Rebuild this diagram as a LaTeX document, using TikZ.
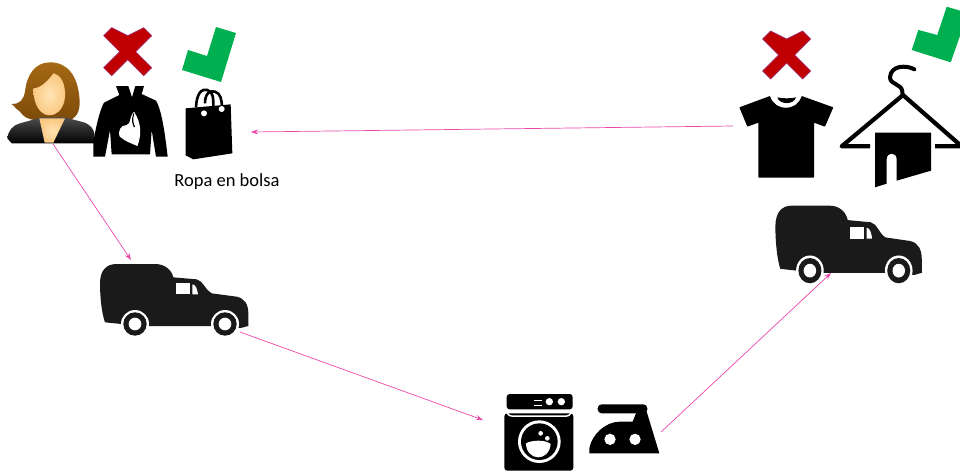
\documentclass[tikz,border=0pt]{standalone}
\usepackage{fontspec}
\setmainfont{Carlito}
\usetikzlibrary{arrows.meta}
\definecolor{pinkline}{RGB}{236,72,170}
\definecolor{vancol}{RGB}{26,26,26}
\definecolor{crossred}{RGB}{192,0,0}
\definecolor{crossedge}{RGB}{160,40,110}
\definecolor{checkgreen}{RGB}{0,176,80}
\definecolor{hairbrown}{RGB}{165,105,20}
\definecolor{hairdark}{RGB}{125,75,10}
\definecolor{skin}{RGB}{250,200,130}
\definecolor{skinlight}{RGB}{255,228,180}
\tikzset{
  flow/.style={draw=pinkline,line width=0.7pt,-{Stealth[length=7pt,width=5pt]},shorten >=0pt,shorten <=0pt},
  icon/.style={fill=black,draw=none},
  hole/.style={fill=white,draw=none},
  vanpic/.pic={
    \fill[vancol] (30,100) .. controls (30,60) and (50,42) .. (80,42) -- (195,42)
      .. controls (225,42) and (245,60) .. (250,82) -- (320,88)
      .. controls (340,92) and (345,120) .. (365,130) -- (440,140)
      .. controls (465,145) and (475,165) .. (475,190) -- (475,228) -- (452,234) -- (360,228) -- (175,228) -- (95,222) -- (45,217)
      .. controls (35,190) and (30,140) .. (30,100) -- cycle;
    \fill[white] (258,100) -- (300,100) -- (300,133) -- (258,133) -- cycle;
    \fill[white] (307,103) .. controls (317,103) and (322,118) .. (324,133) -- (307,133) -- cycle;
    \foreach \wx in {135,405}{
      \fill[white] (\wx,222) circle (42);
      \fill[vancol] (\wx,222) circle (35);
      \fill[white] (\wx,222) circle (19);
    }
  },
  crosspic/.pic={
    \fill[crossred,draw=crossedge,line width=0.7pt]
      (0,-48) -- (48,-72) -- (72,-48) -- (24,0) -- (72,48) -- (48,72) -- (0,24)
      -- (-48,72) -- (-72,48) -- (-24,0) -- (-72,-48) -- (-48,-72) -- cycle;
  }
}
\begin{document}
\begin{tikzpicture}[x=1pt,y=-1pt]
\useasboundingbox (0,0) rectangle (960,472);
\clip (0,0) rectangle (960,472);
\fill[white] (0,0) rectangle (960,472);

% connector ends
\coordinate (shirtEnd) at (733,126);
\coordinate (bagEnd) at (251,132);
\coordinate (personEnd) at (53,144);
\coordinate (vanAIn) at (131,260);
\coordinate (vanAOut) at (240,332);
\coordinate (washerIn) at (483,420);
\coordinate (ironOut) at (661,432);
\coordinate (vanBIn) at (831,273);

% person
\begin{scope}[shift={(0,10)},scale=1/3]
  \shade[top color=hairbrown,bottom color=hairdark,draw=none]
    (150,157) .. controls (205,157) and (232,200) .. (238,260)
    .. controls (242,295) and (235,320) .. (210,330) -- (110,330)
    .. controls (85,330) and (70,320) .. (60,305)
    .. controls (50,300) and (45,290) .. (35,282)
    .. controls (60,282) and (70,270) .. (75,245)
    .. controls (80,195) and (105,157) .. (150,157) -- cycle;
  \shade[top color=black!70,bottom color=black,draw=none]
    (22,385) .. controls (25,360) and (40,345) .. (60,340) -- (125,322) -- (195,322) -- (255,338)
    .. controls (270,345) and (280,355) .. (283,370) -- (283,400) -- (35,400) -- cycle;
  \shade[inner color=skinlight,outer color=skin,draw=none]
    (118,325) -- (195,325) -- (160,398) -- (134,398) -- cycle;
  \shade[inner color=skinlight,outer color=skin,draw=none]
    (100,235) .. controls (125,235) and (150,205) .. (160,190)
    .. controls (185,195) and (197,225) .. (195,260)
    .. controls (193,295) and (170,318) .. (145,316)
    .. controls (120,312) and (100,285) .. (100,235) -- cycle;
  \draw[hairdark,line width=0.3pt] (118,312) .. controls (135,320) and (160,320) .. (172,310);
\end{scope}

% left cross and check
\pic at (127.7,51.7) [scale=1/3] {crosspic};
\fill[checkgreen] (216,27) -- (236,33) -- (221,82) -- (182,70) -- (188,50) -- (207,56) -- cycle;

% jacket
\begin{scope}[shift={(0,10)},scale=1/3]
  \fill[icon] (348,228) -- (385,228) -- (396,262) -- (406,228) -- (432,228) -- (425,252)
    -- (468,272) .. controls (485,300) and (495,370) .. (503,440) -- (468,440) -- (455,360) -- (450,433)
    -- (335,433) -- (330,360) -- (315,440) -- (280,440) -- (280,395)
    .. controls (290,340) and (300,300) .. (312,278) -- (358,255) -- cycle;
  \fill[hole] (402,305) .. controls (385,325) and (395,340) .. (380,345)
    .. controls (360,345) and (355,365) .. (358,378)
    .. controls (375,395) and (395,400) .. (412,408)
    .. controls (425,375) and (425,340) .. (402,305) -- cycle;
  \fill[icon] (400,310) .. controls (392,330) and (398,345) .. (402,352) -- (405,350) .. controls (400,340) and (397,325) .. (403,312) -- cycle;
\end{scope}

% bag
\begin{scope}[shift={(0,10)},scale=1/3]
  \fill[icon] (557,295) -- (692,283) -- (697,430) -- (580,448) -- (557,436) -- cycle;
  \draw[black,line width=2.6pt] (588,292) .. controls (590,250) and (605,235) .. (622,240) .. controls (640,245) and (640,265) .. (640,290);
  \draw[black,line width=2.6pt] (615,280) .. controls (615,250) and (630,240) .. (645,245) .. controls (662,250) and (665,270) .. (666,290);
  \fill[hole] (612,310) circle (9);
  \fill[hole] (665,297) circle (9);
\end{scope}
\node[inner sep=0pt,font=\fontsize{18.5}{20}\selectfont,text=black] (bagLabel) at (227,182) {Ropa en bolsa};

% right cross and check
\pic at (786.7,55) [scale=1/3] {crosspic};
\fill[checkgreen] (946.7,6.7) -- (968,13) -- (950.7,62.3) -- (911.7,50) -- (918.3,30) -- (937.3,35) -- cycle;

% t-shirt and hanger
\begin{scope}[shift={(720,0)},scale=1/3]
  \fill[icon,rounded corners=0.5pt] (58,322) -- (150,288) .. controls (165,335) and (230,335) .. (245,288)
    -- (340,322) -- (315,380) -- (282,368) -- (282,533) -- (115,533) -- (115,368) -- (82,380) -- cycle;
  \fill[icon] (172,292) .. controls (185,296) and (215,296) .. (228,292) .. controls (222,315) and (178,315) .. (172,292) -- cycle;

  \draw[black,line width=4pt,line cap=round,line join=round]
    (583,208) .. controls (560,195) and (512,195) .. (510,232) .. controls (510,255) and (545,250) .. (547,275) -- (548,287);
  \draw[black,line width=4.2pt,line join=round] (450,439) -- (365,439) -- (549,285) -- (725,439) -- (645,439);
  \fill[icon] (465,398) -- (633,398) -- (633,512) -- (530,542) -- (530,478)
    .. controls (530,455) and (500,455) .. (500,478) -- (500,551) -- (465,562) -- cycle;
\end{scope}

% vans
\pic at (90,250) [scale=1/3] {vanpic};
\pic at (765.5,190.5) [xscale=0.329,yscale=0.361] {vanpic};

% washer
\begin{scope}[shift={(490,380)},scale=1/3]
  \fill[icon,rounded corners=3pt] (50,88) -- (50,42) -- (248,42) -- (248,88) -- cycle;
  \fill[icon,rounded corners=3pt] (43,100) -- (43,272) -- (250,272) -- (250,100) -- cycle;
  \fill[hole] (132,59) rectangle (156,64);
  \fill[hole] (132,74) rectangle (156,79);
  \fill[hole] (178,65) circle (11);
  \fill[hole] (214,65) circle (11);
  \draw[white,line width=1.5pt] (43,92) .. controls (55,96) and (52,108) .. (65,108) -- (230,108) .. controls (242,108) and (240,96) .. (250,92);
  \fill[hole] (148,185) circle (64);
  \fill[icon] (148,185) circle (55);
  \fill[hole] (108,190) .. controls (125,180) and (165,178) .. (182,192)
    .. controls (180,220) and (160,232) .. (145,232) .. controls (125,232) and (108,215) .. (108,190) -- cycle;
  \fill[hole] (152,160) circle (7);
  \fill[hole] (172,175) circle (7);
\end{scope}

% iron
\begin{scope}[shift={(490,380)},scale=1/3]
  \fill[icon,rounded corners=4pt] (323,73) -- (472,73) -- (472,100) -- (323,100) -- cycle;
  \fill[icon] (298,220) -- (298,205) .. controls (305,165) and (345,125) .. (390,125) -- (428,125) -- (440,95) -- (470,95) -- (508,220) -- cycle;
  \fill[hole] (360,178) circle (17);
  \fill[hole] (435,178) circle (17);
\end{scope}

% connectors
\draw[flow] (shirtEnd) -- (bagEnd);
\draw[flow] (personEnd) -- (vanAIn);
\draw[flow] (vanAOut) -- (washerIn);
\draw[flow] (ironOut) -- (vanBIn);
\end{tikzpicture}
\end{document}
